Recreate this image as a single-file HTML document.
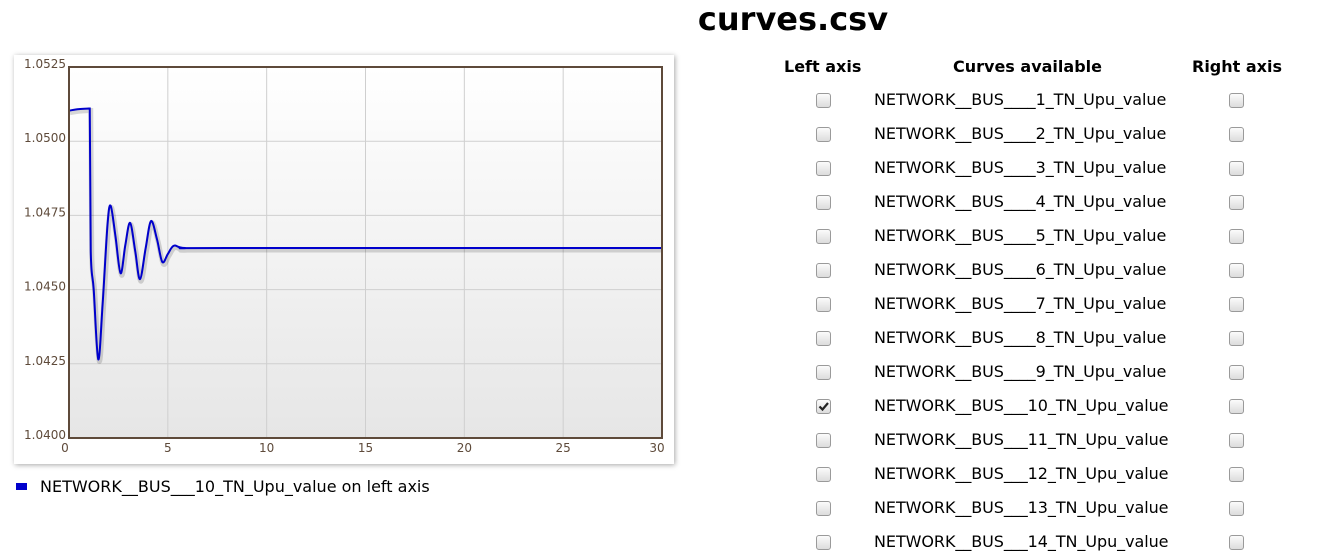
<!DOCTYPE html>
<html><head><meta charset="utf-8">
<style>
body{margin:0;width:1321px;height:557px;background:#fff;font-family:"DejaVu Sans","Liberation Sans",sans-serif;position:relative;overflow:hidden;color:#000}
#title{position:absolute;left:0;width:1586px;top:0;text-align:center;font-weight:bold;font-size:32px;line-height:38px}
#panel{position:absolute;left:14px;top:55px;width:660px;height:409px;background:#fff;box-shadow:1px 1px 5px rgba(0,0,0,0.35)}
#chart{position:absolute;left:0;top:0}
#legend{position:absolute;left:16px;top:477px;font-size:16px;line-height:20px}
#legend .sw{display:inline-block;width:11px;height:7px;background:#0000cc;margin-right:13px;vertical-align:2px}
.hdr{position:absolute;top:57px;font-weight:bold;font-size:16px;line-height:20px}
.row{position:absolute;left:0;width:1321px;height:20px;font-size:16px;line-height:20px}
.cb{position:absolute;top:3px;width:13px;height:13px;border:1px solid #9a9a9a;border-radius:3px;background:linear-gradient(#fbfbfb,#dcdcdc);box-sizing:content-box}
.lbl{position:absolute;left:874px;letter-spacing:-0.07px}
</style></head><body>
<div id="title">curves.csv</div>
<div id="panel">
<svg id="chart" width="660" height="409">
<defs><linearGradient id="bg" x1="0" y1="0" x2="0" y2="1"><stop offset="0" stop-color="#ffffff"/><stop offset="1" stop-color="#e6e6e6"/></linearGradient></defs>
<rect x="55" y="12" width="593" height="371" fill="url(#bg)"/>
<g id="grid"></g><g id="ticks"></g><g id="series"></g>
<rect x="55" y="12" width="593" height="371" fill="none" stroke="#5e4a3a" stroke-width="2"/>
</svg>
</div>
<div id="legend"><span class="sw"></span>NETWORK__BUS___10_TN_Upu_value on left axis</div>
<div class="hdr" style="left:784px">Left axis</div>
<div class="hdr" style="left:953px">Curves available</div>
<div class="hdr" style="left:1192px">Right axis</div>
<div id="rows"></div>
<script>
const times=[0,0.5,1.0,1.05,1.1,1.25,1.48,1.7,1.95,2.11,2.35,2.61,2.85,3.09,3.35,3.59,3.88,4.15,4.45,4.72,5.0,5.31,5.87,8,30];
const values=[1.05103,1.05108,1.05110,1.0511,1.0463,1.0450,1.04265,1.0445,1.0472,1.04782,1.0468,1.04555,1.0465,1.04725,1.0463,1.04535,1.0464,1.04731,1.0467,1.04593,1.0462,1.04648,1.0464,1.0464,1.0464];
const xTicks=[0,5,10,15,20,25,30];
const yTicks=[1.0400,1.0425,1.0450,1.0475,1.0500,1.0525];
const curveNames=[];for(let i=1;i<=14;i++){curveNames.push("NETWORK__BUS"+"_".repeat(i<10?4:3)+i+"_TN_Upu_value");}
const checkedLeft=[10];
const NS="http://www.w3.org/2000/svg";
const X=t=>55+t/30*593, Y=v=>12+(1.0525-v)/0.0125*371;
const grid=document.getElementById('grid'),ticks=document.getElementById('ticks'),series=document.getElementById('series');
function mk(tag,attrs,parent){const e=document.createElementNS(NS,tag);for(const k in attrs)e.setAttribute(k,attrs[k]);parent.appendChild(e);return e;}
xTicks.forEach(t=>{
 if(t>0&&t<30){const l=mk('line',{x1:X(t),x2:X(t),y1:12,y2:383,stroke:'#cfcfcf'},grid);
 
 }
 const tx=mk('text',{x:X(t)+(t==30?-5:(t==0?-4:0)),y:397,'text-anchor':'middle','font-size':12,fill:'#5e4a3a','font-family':'DejaVu Sans, sans-serif'},ticks);tx.textContent=t;
 
 
});
yTicks.forEach(v=>{
 if(v>1.04&&v<1.0525){const l=mk('line',{x1:55,x2:648,y1:Y(v),y2:Y(v),stroke:'#cfcfcf'},grid);
 
 }
 const tx=mk('text',{x:10,y:Y(v)+1,'font-size':12,fill:'#5e4a3a','font-family':'DejaVu Sans, sans-serif'},ticks);tx.textContent=v.toFixed(4);
 
 
});
const pts=times.map((t,i)=>[X(t),Y(values[i])]);
let d='M'+pts[0][0]+','+pts[0][1];
for(let i=0;i<pts.length-1;i++){
 const p0=pts[Math.max(0,i-1)],p1=pts[i],p2=pts[i+1],p3=pts[Math.min(pts.length-1,i+2)];
 const k=(i==2||i==3)?0:1/6;
 d+=' C'+(p1[0]+(p2[0]-p0[0])*k)+','+(p1[1]+(p2[1]-p0[1])*k)+' '+(p2[0]-(p3[0]-p1[0])*k)+','+(p2[1]-(p3[1]-p1[1])*k)+' '+p2[0]+','+p2[1];
}
const sh=mk('path',{d:d,fill:'none',stroke:'rgba(0,0,0,0.15)','stroke-width':5,transform:'translate(1,2)'},series);


const ln=mk('path',{d:d,fill:'none',stroke:'#0000cc','stroke-width':2},series);


const rows=document.getElementById('rows');
curveNames.forEach((n,i)=>{
 const r=document.createElement('div');r.className='row';r.style.top=(90+i*34)+'px';
 
 
 const on=checkedLeft.includes(i+1);
 const a=document.createElement('div');a.className='cb';a.style.left='816px';
 if(on){a.innerHTML='<svg width="13" height="13" style="position:absolute;left:0;top:0"><path d="M2.5,6.5 L5.5,9.5 L11,3" fill="none" stroke="#222" stroke-width="2.2"/></svg>';}
 
 
 const l=document.createElement('div');l.className='lbl';l.textContent=n;
 
 
 const b=document.createElement('div');b.className='cb';b.style.left='1229px';
 
 
 r.appendChild(a);r.appendChild(l);r.appendChild(b);rows.appendChild(r);
});
</script>
</body></html>
